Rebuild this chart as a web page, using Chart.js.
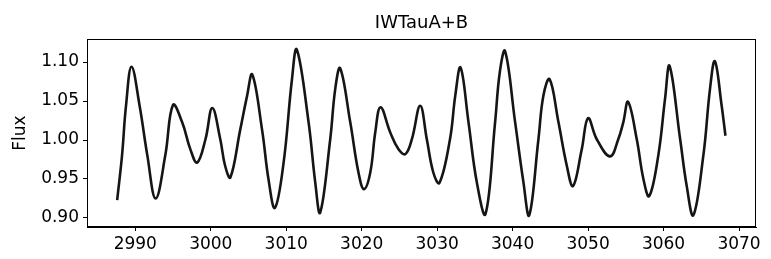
<!DOCTYPE html>
<html>
<head>
<meta charset="utf-8">
<script src="https://cdn.jsdelivr.net/npm/chart.js@4/dist/chart.umd.min.js"></script>
<style>
  html, body { margin: 0; padding: 0; background: #fff; }
  #wrap { width: 771px; height: 259px; position: relative; }
</style>
</head>
<body>
<div id="wrap"><canvas id="lc" width="771" height="259"></canvas></div>
<script>
// light curve (time in days, normalised flux)
const days = [
  2987.6, 2988.24, 2988.77, 2989.5, 2990.57, 2991.6, 2992.7, 2993.97, 2995.0, 2996.2,
  2997.3, 2998.2, 2999.3, 3000.2, 3001.26, 3001.9, 3002.6, 3003.9, 3004.8, 3005.5,
  3006.8, 3007.66, 3008.5, 3009.64, 3010.75, 3011.4, 3012.96, 3013.84, 3014.5, 3015.83,
  3016.5, 3017.15, 3018.48, 3019.58, 3020.3, 3021.13, 3021.8, 3022.5, 3023.77, 3024.88,
  3025.8, 3026.65, 3027.75, 3028.63, 3029.5, 3030.3, 3031.7, 3032.4, 3033.1, 3034.15,
  3035.25, 3036.4, 3037.68, 3038.3, 3039.0, 3040.33, 3041.43, 3042.2, 3043.42, 3044.08,
  3044.9, 3046.07, 3047.18, 3048.0, 3049.16, 3050.0, 3051.15, 3052.9, 3054.0, 3054.67,
  3055.3, 3056.45, 3057.33, 3058.1, 3059.3, 3060.2, 3060.8, 3062.2, 3063.07, 3063.95,
  3065.27, 3066.16, 3066.8, 3067.7, 3068.2
];
const flux = [
  0.923, 0.980, 1.044, 1.094, 1.044, 0.980, 0.925, 0.980, 1.045, 1.023,
  0.988, 0.971, 1.001, 1.041, 1.001, 0.967, 0.952, 1.013, 1.056, 1.084,
  1.013, 0.949, 0.913, 0.970, 1.077, 1.116, 1.023, 0.946, 0.907, 1.001,
  1.066, 1.092, 1.023, 0.958, 0.937, 0.958, 1.010, 1.042, 1.010, 0.988,
  0.982, 1.001, 1.044, 1.001, 0.958, 0.945, 1.001, 1.057, 1.093, 1.023,
  0.946, 0.905, 1.023, 1.087, 1.114, 1.023, 0.946, 0.9035, 1.001, 1.057,
  1.078, 1.023, 0.967, 0.941, 0.988, 1.028, 1.001, 0.979, 1.001, 1.023,
  1.049, 1.001, 0.950, 0.928, 0.980, 1.053, 1.095, 1.001, 0.941, 0.9035,
  0.980, 1.066, 1.101, 1.044, 1.0055
];
const xTicks = [2990, 3000, 3010, 3020, 3030, 3040, 3050, 3060, 3070];
const yTicks = [0.90, 0.95, 1.00, 1.05, 1.10];
const title = 'IWTauA+B';
const yLabel = 'Flux';

const FONT = "'DejaVu Sans', sans-serif";

// frame, title and y label, matplotlib style
const decor = {
  id: 'decor',
  afterDraw(chart) {
    const { ctx, chartArea: a } = chart;
    ctx.save();
    ctx.strokeStyle = '#000';
    ctx.lineWidth = 1;
    ctx.strokeRect(a.left + 0.5, a.top + 0.5, a.right - a.left - 1, a.bottom - a.top - 1);
    ctx.fillStyle = '#000';
    ctx.textAlign = 'center';
    ctx.textBaseline = 'middle';
    ctx.font = '18px ' + FONT;
    ctx.fillText(title, (a.left + a.right) / 2, 23);
    ctx.translate(21, (a.top + a.bottom) / 2);
    ctx.rotate(-Math.PI / 2);
    ctx.font = '17px ' + FONT;
    ctx.fillText(yLabel, 0, 0);
    ctx.restore();
  }
};

new Chart(document.getElementById('lc'), {
  type: 'scatter',
  data: {
    datasets: [{
      data: days.map((d, i) => ({ x: d, y: flux[i] })),
      showLine: true,
      borderColor: '#151515',
      borderWidth: 2.6,
      pointRadius: 0,
      tension: 0.4
    }]
  },
  options: {
    responsive: false,
    animation: false,
    devicePixelRatio: 1,
    layout: { padding: { top: 39, right: 15, left: 0, bottom: 0 } },
    plugins: { legend: { display: false }, tooltip: { enabled: false } },
    scales: {
      x: {
        type: 'linear',
        min: 2983.6,
        max: 3072.25,
        afterBuildTicks: s => { s.ticks = xTicks.map(v => ({ value: v })); },
        afterFit: s => { s.height = 32; },
        grid: { drawOnChartArea: false, drawTicks: true, tickLength: 4, color: '#000' },
        border: { display: true, color: '#000' },
        ticks: { color: '#000', font: { family: FONT, size: 17 }, padding: 3, maxRotation: 0,
                 callback: v => String(v) }
      },
      y: {
        min: 0.8884,
        max: 1.1296,
        afterBuildTicks: s => { s.ticks = yTicks.map(v => ({ value: v })); },
        afterFit: s => { s.width = 87; },
        grid: { drawOnChartArea: false, drawTicks: true, tickLength: 4, color: '#000' },
        border: { display: true, color: '#000' },
        ticks: { color: '#000', font: { family: FONT, size: 17 }, padding: 4,
                 callback: v => v.toFixed(2) }
      }
    }
  },
  plugins: [decor]
});
</script>
</body>
</html>
